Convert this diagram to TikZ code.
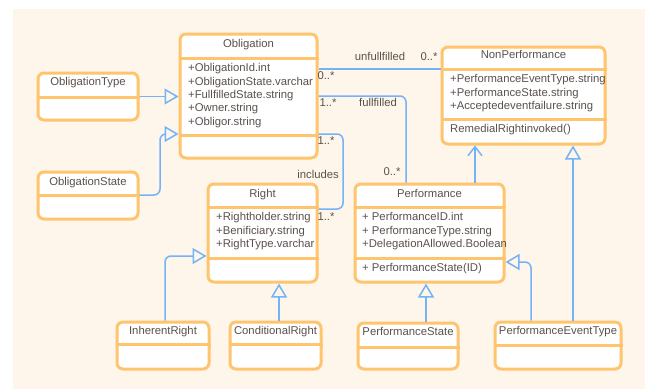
\documentclass[tikz,border=0pt]{standalone}
\usepackage{fontspec}
\setmainfont{Liberation Sans}
\usetikzlibrary{arrows.meta}
\definecolor{BoxOrange}{HTML}{FFC46E}
\definecolor{LineBlue}{HTML}{74B3F7}
\definecolor{Cream}{HTML}{FEF6EA}
\definecolor{TextGray}{HTML}{5A514D}

\begin{document}
\begin{tikzpicture}[x=1pt,y=-1pt,
  cls/.style={draw=BoxOrange,fill=white,line width=3pt,rounded corners=6pt,inner sep=0pt},
  sep/.style={draw=BoxOrange,line width=3pt},
  link/.style={draw=LineBlue,line width=1.5pt,rounded corners=6pt},
  gen/.style={link,-{Triangle[open,length=14pt,width=16pt]}},
  dep/.style={link,-{Straight Barb[length=9pt,width=14pt]}},
  txt/.style={text=TextGray,font=\fontsize{11.3}{13}\selectfont,inner sep=0pt,text height=8pt,text depth=2.5pt},
  attr/.style={txt,anchor=west}]
\fill[white] (0,0) rectangle (647,389);
\fill[Cream] (13,9) rectangle (645,389);

% classes
\node[cls,minimum width=137pt,minimum height=124pt] (obl) at (248.5,96) {};
\node[cls,minimum width=100pt,minimum height=47pt] (otype) at (88,96.5) {};
\node[cls,minimum width=100pt,minimum height=47pt] (ostate) at (88,195.5) {};
\node[cls,minimum width=163pt,minimum height=97pt] (nonperf) at (523.5,95.5) {};
\node[cls,minimum width=109pt,minimum height=98pt] (right) at (262.5,233) {};
\node[cls,minimum width=149pt,minimum height=98pt] (perf) at (429.5,233) {};
\node[cls,minimum width=92pt,minimum height=47pt] (iright) at (163,345.5) {};
\node[cls,minimum width=91pt,minimum height=47pt] (cright) at (275.5,345.5) {};
\node[cls,minimum width=100pt,minimum height=46pt] (pstate) at (408,346) {};
\node[cls,minimum width=126pt,minimum height=47pt] (petype) at (558,345.5) {};

\draw[sep] (obl.west |- 0,58) -- (obl.east |- 0,58);
\draw[sep] (obl.west |- 0,135) -- (obl.east |- 0,135);
\draw[sep] (otype.west |- 0,97) -- (otype.east |- 0,97);
\draw[sep] (ostate.west |- 0,195) -- (ostate.east |- 0,195);
\draw[sep] (nonperf.west |- 0,69) -- (nonperf.east |- 0,69);
\draw[sep] (nonperf.west |- 0,119) -- (nonperf.east |- 0,119);
\draw[sep] (right.west |- 0,207) -- (right.east |- 0,207);
\draw[sep] (right.west |- 0,258) -- (right.east |- 0,258);
\draw[sep] (perf.west |- 0,207) -- (perf.east |- 0,207);
\draw[sep] (perf.west |- 0,258) -- (perf.east |- 0,258);
\draw[sep] (iright.west |- 0,344) -- (iright.east |- 0,344);
\draw[sep] (cright.west |- 0,344) -- (cright.east |- 0,344);
\draw[sep] (pstate.west |- 0,347) -- (pstate.east |- 0,347);
\draw[sep] (petype.west |- 0,345) -- (petype.east |- 0,345);

% names and members
\node[txt] (obl-t) at (248.5,45) {Obligation};
\node[attr] (obl-a1) at (188,69) {+ObligationId.int};
\node[attr] (obl-a2) at (188,82.5) {+ObligationState.varchar};
\node[attr] (obl-a3) at (188,96) {+FullfilledState.string};
\node[attr] (obl-a4) at (188,109) {+Owner.string};
\node[attr] (obl-a5) at (188,122.5) {+Obligor.string};
\node[txt] (otype-t) at (88,83) {ObligationType};
\node[txt] (ostate-t) at (88,182.5) {ObligationState};
\node[txt] (nonperf-t) at (523.5,56) {NonPerformance};
\node[attr] (nonperf-a1) at (450,80) {+PerformanceEventType.string};
\node[attr] (nonperf-a2) at (450,93.5) {+PerformanceState.string};
\node[attr] (nonperf-a3) at (450,107) {+Acceptedeventfailure.string};
\node[attr] (nonperf-m1) at (450,130) {RemedialRightinvoked()};
\node[txt] (right-t) at (262.5,195) {Right};
\node[attr] (right-a1) at (216,218) {+Rightholder.string};
\node[attr] (right-a2) at (216,231.5) {+Benificiary.string};
\node[attr] (right-a3) at (216,245) {+RightType.varchar};
\node[txt] (perf-t) at (429.5,195) {Performance};
\node[attr] (perf-a1) at (362,218) {+ PerformanceID.int};
\node[attr] (perf-a2) at (362,231.5) {+ PerformanceType.string};
\node[attr] (perf-a3) at (362,245) {+DelegationAllowed.Boolean};
\node[attr] (perf-m1) at (362,269) {+ PerformanceState(ID)};
\node[txt] (iright-t) at (163,332) {InherentRight};
\node[txt] (cright-t) at (275.5,332) {ConditionalRight};
\node[txt] (pstate-t) at (408,333) {PerformanceState};
\node[txt] (petype-t) at (558,332) {PerformanceEventType};

% associations
\draw[link] (obl.east |- 0,69) -- (nonperf.west |- 0,69);
\draw[link] (obl.east |- 0,96) -| (perf.north -| 406,0);
\draw[link] (obl.east |- 0,134) -| (343,209) -- (right.east |- 0,209);
\node[txt] (m1) at (326,77) {0..*};
\node[txt] (m2) at (380,58) {unfullfilled};
\node[txt] (m3) at (429,58) {0..*};
\node[txt] (m4) at (328,104) {1..*};
\node[txt] (m5) at (378,104) {fullfilled};
\node[txt] (m6) at (392,173) {0..*};
\node[txt] (m7) at (326,142) {1..*};
\node[txt,anchor=east] (m8) at (339,176) {includes};
\node[txt] (m9) at (326,218) {1..*};

% generalizations
\draw[gen] (otype.east) -- (otype.east -| obl.west);
\draw[gen] (ostate.east |- 0,195) -| (160,134) -- (obl.west |- 0,134);
\draw[dep] (perf.north -| 475,0) -- (nonperf.south -| 475,0);
\draw[gen] (petype.north -| 573,0) -- (nonperf.south -| 573,0);
\draw[gen] (petype.north -| 531,0) |- (perf.east |- 0,262);
\draw[gen] (pstate.north -| 426,0) -- (perf.south -| 426,0);
\draw[gen] (cright.north -| 279,0) -- (right.south -| 279,0);
\draw[gen] (iright.north -| 165,0) |- (right.west |- 0,256);
\end{tikzpicture}
\end{document}
